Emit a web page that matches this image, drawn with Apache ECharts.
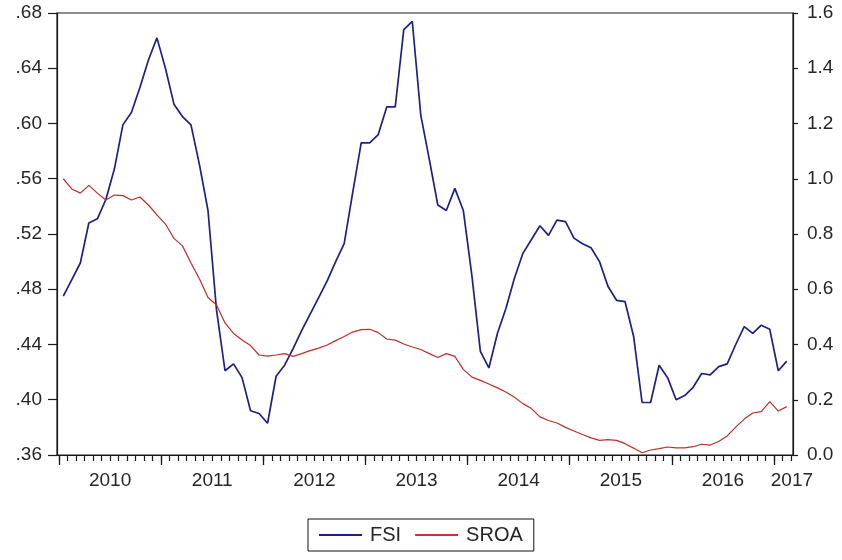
<!DOCTYPE html>
<html>
<head>
<meta charset="utf-8">
<script src="https://cdn.jsdelivr.net/npm/echarts@6/dist/echarts.min.js"></script>
<style>
  html, body { margin: 0; padding: 0; background: #fff; }
  #chart { width: 842px; height: 560px; }
</style>
</head>
<body>
<div id="chart"></div>
<script>
// Monthly observations, 2010M01 .. 2017M02
const yearLabels = ['2010', '2011', '2012', '2013', '2014', '2015', '2016', '2017'];

// FSI (left axis)
const fsi = [
  .475, .487, .499, .528, .531, .545, .567, .599, .608, .626, .646, .662,
  .640, .614, .605, .599, .570, .537, .465, .421, .426, .416, .392, .390,
  .383, .417, .425, .437, .450, .462, .474, .486, .500, .513, .550, .586,
  .586, .592, .612, .612, .668, .674, .606, .574, .541, .537, .553, .537,
  .490, .435, .423, .448, .466, .488, .506, .516, .526, .519, .530, .529,
  .517, .513, .510, .500, .482, .472, .471, .446, .398, .398, .425, .416,
  .400, .403, .409, .419, .418, .424, .426, .440, .453, .448, .454, .451,
  .421, .428
];

// SROA (right axis)
const sroa = [
  1.00, .963, .948, .976, .948, .923, .941, .939, .923, .934, .905, .869,
  .836, .784, .757, .695, .637, .570, .543, .478, .440, .416, .396, .362,
  .358, .362, .367, .357, .367, .378, .387, .398, .414, .429, .445, .454,
  .455, .443, .420, .416, .402, .391, .382, .367, .353, .367, .357, .310,
  .282, .270, .257, .243, .228, .209, .186, .168, .138, .125, .116, .100,
  .087, .074, .062, .053, .056, .053, .041, .025, .008, .018, .023, .029,
  .026, .026, .030, .039, .036, .049, .069, .101, .130, .152, .157, .193,
  .159, .175
];

const FONT = "'Liberation Sans', Arial, sans-serif";
const TEXT = '#262626';
const LINE = '#1a1a1a';

// x is measured in months from the start of 2010; each observation sits mid-month
const toPoints = arr => arr.map((v, i) => [i + 0.5, v]);
const X_MIN = -0.24, X_MAX = 86.23;
const yearTicks = [0, 12, 24, 36, 48, 60, 72, 84];
const yearLabelPos = [6, 18, 30, 42, 54, 66, 78, 86.1];
const monthTicks = [];
for (let m = 0; m <= 86; m++) monthTicks.push(m);

const chart = echarts.init(document.getElementById('chart'), null, { renderer: 'canvas' });

chart.setOption({
  animation: false,
  backgroundColor: '#fff',
  textStyle: { fontFamily: FONT },
  grid: {
    left: 57, right: 49, top: 13, bottom: 105,
    show: true, borderColor: LINE, borderWidth: 1.2, backgroundColor: '#fff'
  },
  legend: {
    left: 308, top: 519,
    padding: [6, 11],
    borderColor: '#111', borderWidth: 1,
    itemWidth: 43, itemHeight: 2, itemGap: 14,
    icon: 'rect',
    textStyle: { fontSize: 20, color: TEXT, fontFamily: FONT, padding: [0, 0, 0, 3] },
    data: ['FSI', 'SROA']
  },
  xAxis: [
    {
      // monthly minor ticks and year labels
      type: 'value', min: X_MIN, max: X_MAX, position: 'bottom',
      splitLine: { show: false },
      axisLine: { show: true, onZero: false, lineStyle: { color: LINE, width: 1.2 } },
      axisTick: { show: true, inside: false, length: 6, customValues: monthTicks,
                  lineStyle: { color: LINE, width: 1.2 } },
      axisLabel: {
        show: true, margin: 16, fontSize: 19, color: TEXT, fontFamily: FONT,
        customValues: yearLabelPos,
        formatter: v => yearLabels[Math.floor(v / 12)] || ''
      }
    },
    {
      // year boundary ticks
      type: 'value', min: X_MIN, max: X_MAX, position: 'bottom',
      splitLine: { show: false },
      axisLine: { show: false, onZero: false },
      axisTick: { show: true, inside: false, length: 10, customValues: yearTicks,
                  lineStyle: { color: LINE, width: 1.3 } },
      axisLabel: { show: false }
    }
  ],
  yAxis: [
    {
      type: 'value', min: 0.36, max: 0.68, interval: 0.04, position: 'left',
      splitLine: { show: false },
      axisLine: { show: true, onZero: false, lineStyle: { color: LINE, width: 1.2 } },
      axisTick: { show: true, inside: false, length: 9, lineStyle: { color: LINE, width: 1.2 } },
      axisLabel: {
        margin: 15, fontSize: 19, color: TEXT, fontFamily: FONT,
        formatter: v => v.toFixed(2).replace(/^0/, '')
      }
    },
    {
      type: 'value', min: 0, max: 1.6, interval: 0.2, position: 'right',
      splitLine: { show: false },
      axisLine: { show: true, onZero: false, lineStyle: { color: LINE, width: 1.2 } },
      axisTick: { show: true, inside: false, length: 5, lineStyle: { color: LINE, width: 1.2 } },
      axisLabel: {
        margin: 14, fontSize: 19, color: TEXT, fontFamily: FONT,
        formatter: v => v.toFixed(1)
      }
    }
  ],
  series: [
    {
      name: 'FSI', type: 'line', xAxisIndex: 0, yAxisIndex: 0,
      data: toPoints(fsi), showSymbol: false, symbol: 'none',
      itemStyle: { color: '#1c2184' },
      lineStyle: { color: '#1c2184', width: 1.7 },
      z: 2
    },
    {
      name: 'SROA', type: 'line', xAxisIndex: 0, yAxisIndex: 1,
      data: toPoints(sroa), showSymbol: false, symbol: 'none',
      itemStyle: { color: '#c8332e' },
      lineStyle: { color: '#bc2f2a', width: 1.2 },
      z: 3
    }
  ]
});
</script>
</body>
</html>
